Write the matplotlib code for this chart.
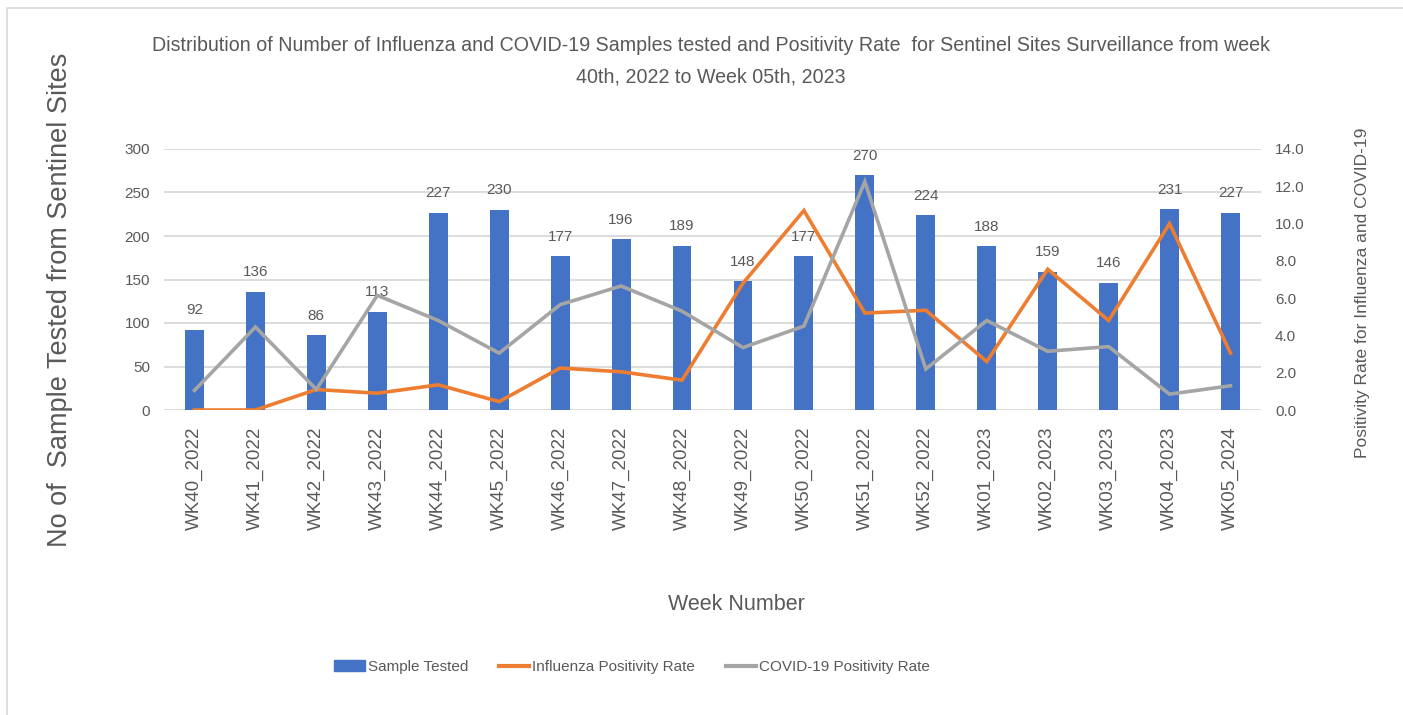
import numpy as np
import matplotlib.pyplot as plt
from matplotlib.patches import Rectangle
from matplotlib.lines import Line2D
from matplotlib.patches import Patch

weeks = ["WK40_2022", "WK41_2022", "WK42_2022", "WK43_2022", "WK44_2022", "WK45_2022",
         "WK46_2022", "WK47_2022", "WK48_2022", "WK49_2022", "WK50_2022", "WK51_2022",
         "WK52_2022", "WK01_2023", "WK02_2023", "WK03_2023", "WK04_2023", "WK05_2024"]
samples = [92, 136, 86, 113, 227, 230, 177, 196, 189, 148, 177, 270, 224, 188, 159, 146, 231, 227]
flu_rate = [0.0, 0.0, 1.1, 0.9, 1.35, 0.45, 2.25, 2.05, 1.6, 6.8, 10.7, 5.2, 5.35, 2.6, 7.55, 4.8, 10.0, 3.05]
covid_rate = [1.05, 4.45, 1.1, 6.15, 4.8, 3.05, 5.65, 6.65, 5.3, 3.35, 4.5, 12.25, 2.2, 4.8, 3.15, 3.4, 0.85, 1.3]

blue = "#4472C4"
orange = "#ED7D31"
grey = "#A5A5A5"
txt = "#595959"
font = "Liberation Sans"

fig = plt.figure(figsize=(14.03, 7.15), dpi=100)
ax = fig.add_axes([164/1403, 1-410/715, (1261-164)/1403, (410-149)/715])
x = np.arange(len(weeks))

ax.bar(x, samples, width=0.31, color=blue, zorder=2)
for i, v in enumerate(samples):
	ax.annotate(str(v), (x[i], v), xytext=(0, 9), textcoords="offset points", ha="center", va="bottom",
		fontsize=11, color=txt, family=font)
ax.set_xlim(-0.5, len(weeks)-0.5)
ax.set_ylim(0, 300)
ax.set_yticks(np.arange(0, 301, 50))
ax.grid(axis="y", color="#D9D9D9", lw=1.3, zorder=0)
ax.set_axisbelow(True)
for s in ax.spines.values():
	s.set_visible(False)
ax.tick_params(length=0, colors=txt)
ax.set_xticks(x)
ax.set_xticklabels(weeks, rotation=90, fontsize=13.5, family=font, color=txt)
for lab in ax.get_yticklabels():
	lab.set_family(font)
	lab.set_fontsize(11)
ax.tick_params(axis="y", pad=10)
ax.tick_params(axis="x", pad=12)

ax2 = ax.twinx()
ax2.plot(x, flu_rate, color=orange, lw=2.6, solid_joinstyle="miter", zorder=3)
ax2.plot(x, covid_rate, color=grey, lw=2.6, solid_joinstyle="miter", zorder=3)
ax2.set_ylim(0, 14)
ax2.set_yticks(np.arange(0, 14.1, 2))
ax2.set_yticklabels(["%.1f" % t for t in np.arange(0, 14.1, 2)], fontsize=11, family=font, color=txt)
ax2.tick_params(length=0, pad=10)
for s in ax2.spines.values():
	s.set_visible(False)

fig.text(711/1403, 1-61/715, "Distribution of Number of Influenza and COVID-19 Samples tested and Positivity Rate  for Sentinel Sites Surveillance from week\n40th, 2022 to Week 05th, 2023",
	ha="center", va="center", fontsize=14.1, family=font, color=txt, linespacing=1.85)
fig.text(60/1403, 1-300/715, "No of  Sample Tested from Sentinel Sites", rotation=90, ha="center", va="center",
	fontsize=19.5, family=font, color=txt)
fig.text(1362/1403, 1-293/715, "Positivity Rate for Influenza and COVID-19", rotation=90, ha="center", va="center",
	fontsize=12.5, family=font, color=txt)
fig.text(736/1403, 1-605/715, "Week Number", ha="center", va="center", fontsize=15.5, family=font, color=txt)

handles = [Patch(color=blue), Line2D([], [], color=orange, lw=3), Line2D([], [], color=grey, lw=3)]
fig.legend(handles, ["Sample Tested", "Influenza Positivity Rate", "COVID-19 Positivity Rate"],
	loc="center", bbox_to_anchor=(632/1403, 1-667/715), ncol=3, frameon=False,
	prop={"family": font, "size": 11}, labelcolor=txt, handlelength=2.0, handletextpad=0.2, columnspacing=2.0)

fig.patches.append(Rectangle((7/1403, -0.1), 1.1, 1-8/715+0.1, transform=fig.transFigure,
	fill=False, edgecolor="#D9D9D9", lw=1.2))

plt.savefig("out.png", dpi=100)
